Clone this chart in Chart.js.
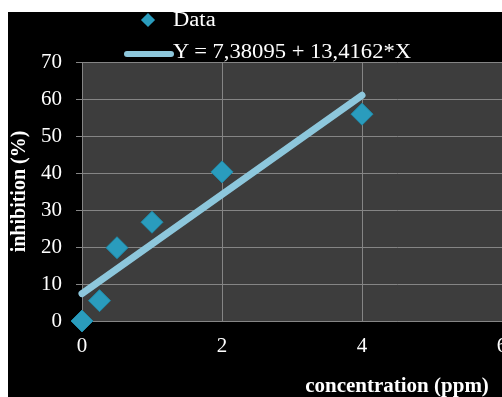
<!DOCTYPE html>
<html>
<head>
<meta charset="utf-8">
<script src="https://cdn.jsdelivr.net/npm/chart.js@4"></script>
<style>
  html, body { margin: 0; padding: 0; background: #fff; overflow: hidden; width: 502px; height: 397px; }
  #wrap { position: absolute; left: 8px; top: 12px; width: 494px; height: 385px; background: #000; overflow: hidden; }
  #chart { position: absolute; left: 0; top: 0; }
  #legend { position: absolute; left: 0; top: 0; font-family: "Liberation Serif", "DejaVu Serif", serif; font-size: 20px; color: #fff; }
  .item { position: absolute; white-space: nowrap; transform-origin: left center; transform: scaleX(1.13); }
  .diamond { position: absolute; width: 10px; height: 10px; transform: rotate(45deg); }
  .bar { position: absolute; height: 6px; border-radius: 3px; }
</style>
</head>
<body>
<div id="wrap">
  <canvas id="chart" width="716" height="385"></canvas>
  <div id="legend"></div>
</div>
<script>
// data
var concentration = [0, 0.25, 0.5, 1, 2, 4];
var inhibition = [0, 5.5, 19.8, 26.7, 40.3, 55.9];
var fitX = [0, 4];
var fitY = [7.4, 61.0];
var dataLabel = 'Data';
var fitLabel = 'Y = 7,38095 + 13,4162*X';
var xTicks = [0, 2, 4, 6, 8];
var yTicks = [0, 10, 20, 30, 40, 50, 60, 70];

var pointColor = '#2a9cbd';
var lineColor = '#8dc7dc';

var plotBg = {
  id: 'plotBg',
  beforeDraw: function(chart) {
    var a = chart.chartArea, ctx = chart.ctx;
    ctx.save();
    ctx.fillStyle = '#3d3d3d';
    ctx.fillRect(a.left, a.top, a.right - a.left, a.bottom - a.top);
    ctx.restore();
  }
};

var ctx = document.getElementById('chart').getContext('2d');
var myChart = new Chart(ctx, {
  type: 'scatter',
  data: {
    datasets: [{
      label: fitLabel,
      type: 'line',
      data: fitX.map(function(x, i) { return {x: x, y: fitY[i]}; }),
      borderColor: lineColor,
      borderWidth: 7,
      borderCapStyle: 'round',
      pointRadius: 0,
      fill: false,
      clip: false,
      order: 2
    }, {
      label: dataLabel,
      data: concentration.map(function(x, i) { return {x: x, y: inhibition[i]}; }),
      pointStyle: 'rectRot',
      pointRadius: 11,
      pointHoverRadius: 11,
      backgroundColor: pointColor,
      borderColor: '#1f88a6',
      borderWidth: 1,
      clip: false,
      order: 1
    }]
  },
  options: {
    responsive: false,
    animation: false,
    layout: { padding: { left: 0, top: 50, right: 12, bottom: 0 } },
    plugins: { legend: { display: false }, tooltip: { enabled: false } },
    scales: {
      x: {
        type: 'linear',
        min: 0, max: 9,
        afterBuildTicks: function(s) { s.ticks = xTicks.map(function(v) { return {value: v}; }); },
        afterFit: function(s) { s.height = 76; },
        grid: { color: '#858585', drawTicks: false, lineWidth: 1 },
        border: { color: '#858585' },
        ticks: { color: '#fff', padding: 13, font: { family: 'Liberation Serif', size: 21 } },
        title: {
          display: true, text: 'concentration (ppm)', color: '#fff',
          font: { family: 'Liberation Serif', size: 21, weight: 'bold', lineHeight: 1 },
          padding: { top: 0, bottom: 0 }
        }
      },
      y: {
        min: 0, max: 70,
        afterBuildTicks: function(s) { s.ticks = yTicks.map(function(v) { return {value: v}; }); },
        afterFit: function(s) { s.width = 74; },
        grid: { color: '#858585', tickLength: 6, lineWidth: 1 },
        border: { color: '#858585' },
        ticks: { color: '#fff', padding: 14, font: { family: 'Liberation Serif', size: 21 } },
        title: {
          display: true, text: 'inhibition (%)', color: '#fff',
          font: { family: 'Liberation Serif', size: 20, weight: 'bold', lineHeight: 1.2 },
          padding: 0
        }
      }
    }
  },
  plugins: [plotBg]
});

// legend built from the datasets
var leg = document.getElementById('legend');
leg.innerHTML =
  '<div class="diamond" style="left:135px;top:3px;background:' + pointColor + '"></div>' +
  '<div class="item" style="left:165px;top:-4px">' + dataLabel + '</div>' +
  '<div class="bar" style="left:116px;top:39px;width:50px;background:' + lineColor + '"></div>' +
  '<div class="item" style="left:165px;top:28px">' + fitLabel + '</div>';
</script>
</body>
</html>
